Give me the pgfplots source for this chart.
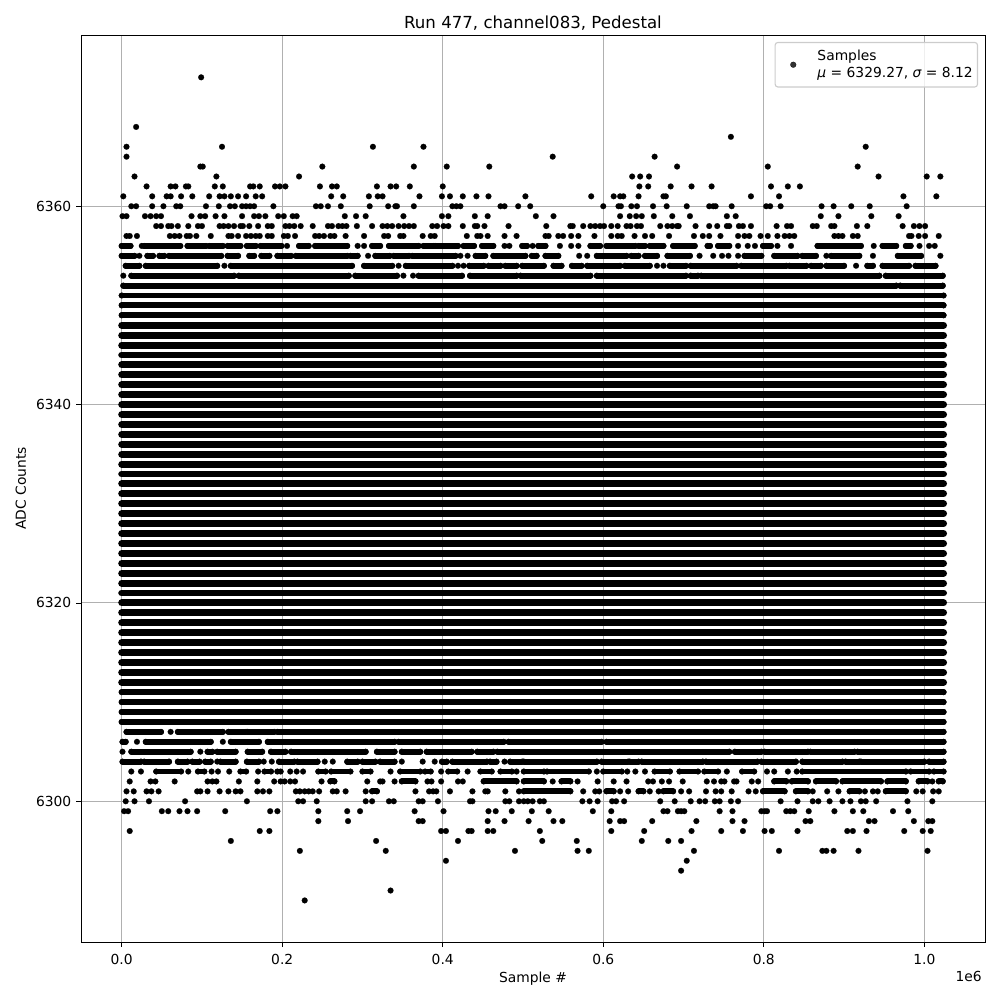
\documentclass[border=0pt]{standalone}
\usepackage{pgfplots}
\pgfplotsset{compat=1.18}
\usepackage{fontspec}
\setmainfont{DejaVu Sans}
\definecolor{gridc}{HTML}{B0B0B0}
\pgfplotsset{seg/.style={black,solid,line width=4.3pt,line cap=round,mark=*,mark size=2.1pt,mark options={line width=0.1pt,fill=black,draw=black},forget plot}}
\begin{document}
\begin{tikzpicture}
\useasboundingbox (-58.54pt,-41.92pt) rectangle (664.16pt,680.78pt);
\begin{axis}[
  at={(0pt,0pt)},anchor=south west,
  scale only axis,width=653.3pt,height=655.5pt,
  xmin=-0.0507,xmax=1.0756,ymin=6285.81,ymax=6377.27,
  unbounded coords=jump,
  axis line style={line width=0.6pt},
  grid=major,grid style={gridc,line width=0.8pt},
  tick align=outside,tick style={black,line width=0.6pt},major tick length=3.5pt,
  xtick={0,0.2,0.4,0.6,0.8,1.0},ytick={6300,6320,6340,6360},
  xtick pos=lower,ytick pos=left,
  scaled x ticks=false,
  x tick label style={yshift=-2pt,/pgf/number format/.cd,fixed,fixed zerofill,precision=1,assume math mode=true},
  y tick label style={/pgf/number format/.cd,1000 sep={},assume math mode=true},
  tick label style={font=\fontsize{10}{12}\selectfont},
  label style={font=\fontsize{10}{12}\selectfont},
  xlabel={Sample \#},ylabel={ADC Counts},
  xlabel style={at={(axis description cs:0.5,0)},anchor=center,yshift=-26.4pt},
  ylabel style={at={(axis description cs:0,0.5)},anchor=center,yshift=43.4pt},
  title={Run 477, channel083, Pedestal},
  title style={font=\fontsize{12}{14}\selectfont,at={(axis description cs:0.5,1)},anchor=center,yshift=2.4pt},
  legend style={at={(axis description cs:1,1)},anchor=north east,xshift=-5pt,yshift=-5pt,draw=black!20,line width=0.8pt,fill=white,fill opacity=0.8,text opacity=1,rounded corners=2pt,font=\fontsize{10}{12}\selectfont,inner xsep=1.5pt,inner ysep=3.3pt},
  legend cell align=left,
  legend image code/.code={\path[draw=none] (2.9pt,0pt) -- (30pt,0pt);\draw[#1] plot coordinates {(14.5pt,0pt)};},
]
% isolated samples
\addplot[only marks,mark=*,mark size=2.1pt,mark options={black,fill=black,line width=0.1pt}] coordinates {
(.099,6373)(.018,6368)
(.006,6366)(.125,6366)(.313,6366)(.376,6366)(.927,6366)
(.759,6367)
(.006,6365)(.537,6365)(.664,6365)
(.098,6364)(.101,6364)(.250,6364)(.364,6364)(.405,6364)(.458,6364)(.692,6364)(.805,6364)(.917,6364)
(.016,6363)(.118,6363)(.221,6363)(.636,6363)(.646,6363)(.657,6363)(.943,6363)(1.003,6363)(1.020,6363)
(.031,6362)(.061,6362)(.067,6362)(.080,6362)(.083,6362)(.116,6362)(.126,6362)(.160,6362)(.164,6362)(.172,6362)(.191,6362)(.197,6362)(.204,6362)(.247,6362)(.262,6362)(.268,6362)(.318,6362)(.335,6362)(.342,6362)(.359,6362)(.400,6362)(.645,6362)(.656,6362)(.684,6362)(.710,6362)(.735,6362)(.809,6362)(.830,6362)(.845,6362)
(.002,6361)(.038,6361)(.056,6361)(.061,6361)(.074,6361)(.088,6361)(.109,6361)(.122,6361)(.128,6361)(.136,6361)(.145,6361)(.155,6361)(.167,6361)(.175,6361)(.261,6361)(.276,6361)(.308,6361)(.319,6361)(.325,6361)(.371,6361)(.399,6361)(.409,6361)(.425,6361)(.442,6361)(.457,6361)(.503,6361)(.585,6361)(.613,6361)(.621,6361)(.625,6361)(.644,6361)(.675,6361)(.678,6361)(.784,6361)(.819,6361)(.974,6361)(1.015,6361)
(.012,6360)(.018,6360)(.038,6360)(.052,6360)(.068,6360)(.073,6360)(.105,6360)(.121,6360)(.135,6360)(.141,6360)(.150,6360)(.155,6360)(.160,6360)(.165,6360)(.189,6360)(.242,6360)(.248,6360)(.257,6360)(.273,6360)(.309,6360)(.332,6360)(.341,6360)(.343,6360)(.364,6360)(.412,6360)(.417,6360)(.422,6360)(.472,6360)(.477,6360)(.494,6360)(.509,6360)(.600,6360)(.619,6360)(.622,6360)(.635,6360)(.642,6360)(.662,6360)(.679,6360)(.704,6360)(.732,6360)(.737,6360)(.740,6360)(.760,6360)(.803,6360)(.808,6360)(.821,6360)(.872,6360)(.887,6360)(.909,6360)(.932,6360)(.978,6360)
(.001,6359)(.006,6359)(.029,6359)(.036,6359)(.043,6359)(.049,6359)(.087,6359)(.098,6359)(.104,6359)(.117,6359)(.128,6359)(.150,6359)(.165,6359)(.171,6359)(.179,6359)(.195,6359)(.202,6359)(.213,6359)(.218,6359)(.278,6359)(.292,6359)(.304,6359)(.351,6359)(.399,6359)(.407,6359)(.440,6359)(.456,6359)(.516,6359)(.538,6359)(.621,6359)(.633,6359)(.641,6359)(.648,6359)(.663,6359)(.686,6359)(.708,6359)(.754,6359)(.765,6359)(.871,6359)(.893,6359)(.934,6359)(.968,6359)
(.043,6358)(.049,6358)(.058,6358)(.062,6358)(.070,6358)(.083,6358)(.095,6358)(.100,6358)(.122,6358)(.127,6358)(.133,6358)(.140,6358)(.148,6358)(.151,6358)(.159,6358)(.170,6358)(.182,6358)(.187,6358)(.204,6358)(.209,6358)(.215,6358)(.223,6358)(.238,6358)(.257,6358)(.262,6358)(.270,6358)(.275,6358)(.280,6358)(.293,6358)(.312,6358)(.325,6358)(.331,6358)(.337,6358)(.345,6358)(.352,6358)(.358,6358)(.364,6358)(.387,6358)(.393,6358)(.401,6358)(.407,6358)(.425,6358)(.440,6358)(.443,6358)(.452,6358)(.482,6358)(.529,6358)(.559,6358)(.562,6358)(.575,6358)(.584,6358)(.590,6358)(.596,6358)(.601,6358)(.610,6358)(.618,6358)(.629,6358)(.634,6358)(.642,6358)(.647,6358)(.671,6358)(.680,6358)(.686,6358)(.692,6358)(.694,6358)(.715,6358)(.732,6358)(.742,6358)(.754,6358)(.757,6358)(.769,6358)(.774,6358)(.784,6358)(.816,6358)(.829,6358)(.834,6358)(.861,6358)(.866,6358)(.884,6358)(.888,6358)(.916,6358)(.929,6358)(.973,6358)(.987,6358)(.994,6358)(1.001,6358)
(.006,6357)(.010,6357)(.019,6357)(.060,6357)(.066,6357)(.072,6357)(.081,6357)(.085,6357)(.093,6357)(.111,6357)(.133,6357)(.137,6357)(.145,6357)(.155,6357)(.161,6357)(.167,6357)(.172,6357)(.182,6357)(.187,6357)(.202,6357)(.207,6357)(.216,6357)(.241,6357)(.246,6357)(.252,6357)(.260,6357)(.265,6357)(.279,6357)(.302,6357)(.327,6357)(.332,6357)(.347,6357)(.351,6357)(.375,6357)(.385,6357)(.390,6357)(.430,6357)(.443,6357)(.447,6357)(.456,6357)(.477,6357)(.492,6357)(.528,6357)(.532,6357)(.544,6357)(.550,6357)(.560,6357)(.569,6357)(.589,6357)(.610,6357)(.618,6357)(.623,6357)(.639,6357)(.652,6357)(.661,6357)(.682,6357)(.713,6357)(.724,6357)(.732,6357)(.746,6357)(.768,6357)(.776,6357)(.782,6357)(.796,6357)(.805,6357)(.817,6357)(.826,6357)(.832,6357)(.838,6357)(.888,6357)(.893,6357)(.898,6357)(.911,6357)(.917,6357)(.981,6357)(.984,6357)(.993,6357)(1.001,6357)(1.018,6357)
(.228,6290)(.335,6291)(.697,6293)(.404,6294)(.704,6294)
(.222,6295)(.329,6295)(.490,6295)(.568,6295)(.582,6295)(.713,6295)(.819,6295)(.873,6295)(.878,6295)(.887,6295)(.918,6295)(1.004,6295)
(.136,6296)(.317,6296)(.419,6296)(.524,6296)(.567,6296)(.648,6296)(.681,6296)(.697,6296)
(.010,6297)(.172,6297)(.184,6297)(.398,6297)(.404,6297)(.432,6297)(.436,6297)(.456,6297)(.463,6297)(.521,6297)(.610,6297)(.651,6297)(.710,6297)(.747,6297)(.774,6297)(.801,6297)(.810,6297)(.842,6297)(.904,6297)(.911,6297)(.928,6297)(.975,6297)(.998,6297)(1.008,6297)
(.245,6298)(.282,6298)(.370,6298)(.375,6298)(.456,6298)(.477,6298)(.507,6298)(.538,6298)(.549,6298)(.608,6298)(.621,6298)(.626,6298)(.661,6298)(.716,6298)(.761,6298)(.776,6298)(.852,6298)(.858,6298)(.931,6298)(.938,6298)(.987,6298)(1.005,6298)(1.010,6298)
(.003,6299)(.008,6299)(.050,6299)(.058,6299)(.072,6299)(.082,6299)(.094,6299)(.129,6299)(.185,6299)(.194,6299)(.245,6299)(.281,6299)(.297,6299)(.365,6299)(.401,6299)(.457,6299)(.466,6299)(.486,6299)(.511,6299)(.532,6299)(.587,6299)(.610,6299)(.675,6299)(.680,6299)(.693,6299)(.697,6299)(.701,6299)(.745,6299)(.761,6299)(.797,6299)(.801,6299)(.804,6299)(.828,6299)(.833,6299)(.838,6299)(.856,6299)(.888,6299)(.911,6299)(.924,6299)(.961,6299)(.980,6299)
(.005,6300)(.016,6300)(.034,6300)(.079,6300)(.156,6300)(.220,6300)(.226,6300)(.243,6300)(.304,6300)(.312,6300)(.333,6300)(.339,6300)(.370,6300)(.375,6300)(.394,6300)(.434,6300)(.437,6300)(.478,6300)(.483,6300)(.495,6300)(.501,6300)(.506,6300)(.512,6300)(.521,6300)(.526,6300)(.574,6300)(.583,6300)(.593,6300)(.611,6300)(.616,6300)(.626,6300)(.671,6300)(.689,6300)(.709,6300)(.720,6300)(.727,6300)(.739,6300)(.745,6300)(.759,6300)(.768,6300)(.821,6300)(.842,6300)(.861,6300)(.868,6300)(.882,6300)(.898,6300)(.908,6300)(.921,6300)(.927,6300)(.940,6300)(.979,6300)(1.010,6300)
(.006,6301)(.015,6301)(.031,6301)(.037,6301)(.046,6301)(.094,6301)(.098,6301)(.107,6301)(.122,6301)(.133,6301)(.142,6301)(.148,6301)(.169,6301)(.176,6301)(.184,6301)(.217,6301)(.222,6301)(.228,6301)(.233,6301)(.238,6301)(.246,6301)(.263,6301)(.268,6301)(.279,6301)(.304,6301)(.366,6301)(.383,6301)(.388,6301)(.392,6301)(.409,6301)(.437,6301)(.453,6301)(.456,6301)(.478,6301)(.495,6301)(.575,6301)(.590,6301)(.595,6301)(.621,6301)(.631,6301)(.658,6301)(.669,6301)(.697,6301)(.707,6301)(.728,6301)(.740,6301)(.747,6301)(.760,6301)(.781,6301)(.790,6301)(.861,6301)(.879,6301)(.893,6301)(.926,6301)(.936,6301)(.942,6301)(.990,6301)(.998,6301)(1.011,6301)(1.018,6301)
(.010,6302)(.036,6302)(.042,6302)(.066,6302)(.107,6302)(.113,6302)(.118,6302)(.146,6302)(.169,6302)(.190,6302)(.198,6302)(.203,6302)(.210,6302)(.216,6302)(.249,6302)(.306,6302)(.322,6302)(.325,6302)(.340,6302)(.381,6302)(.386,6302)(.398,6302)(.419,6302)(.425,6302)(.537,6302)(.568,6302)(.593,6302)(.613,6302)(.629,6302)(.656,6302)(.662,6302)(.673,6302)(.682,6302)(.699,6302)(.729,6302)(.738,6302)(.747,6302)(.751,6302)(.763,6302)(.766,6302)(.785,6302)(.793,6302)(1.010,6302)
(.012,6303)(.024,6303)(.083,6303)(.112,6303)(.120,6303)(.134,6303)(.170,6303)(.210,6303)(.218,6303)(.226,6303)(.335,6303)(.398,6303)(.431,6303)(.492,6303)(.592,6303)(.630,6303)(.640,6303)(.652,6303)(.754,6303)(.804,6303)(.813,6303)(.830,6303)(.841,6303)
(.119,6304)(.177,6304)(.187,6304)(.253,6304)(.263,6304)(.349,6304)(.375,6304)(.390,6304)(.477,6304)
(.001,6305)(.098,6305)(.019,6306)(.126,6306)(.061,6307)
};
\addlegendentry{\shortstack[l]{Samples\\{\itshape μ} = 6329.27, {\itshape σ} = 8.12}}
% rows with gaps: runs of overlapping samples, one run after another
\addplot[seg] coordinates {(0,6356)(.011,6356)(nan,nan)(.025,6356)(nan,nan)(.028,6356)(.073,6356)(nan,nan)(.082,6356)(.105,6356)(nan,nan)(.109,6356)(.126,6356)(nan,nan)(.132,6356)(.148,6356)(nan,nan)(.156,6356)(.167,6356)(nan,nan)(.173,6356)(.199,6356)(nan,nan)(.206,6356)(nan,nan)(.221,6356)(.233,6356)(nan,nan)(.241,6356)(.281,6356)(nan,nan)(.294,6356)(nan,nan)(.302,6356)(nan,nan)(.312,6356)(.322,6356)(nan,nan)(.333,6356)(.370,6356)(nan,nan)(.376,6356)(.389,6356)(nan,nan)(.391,6356)(.419,6356)(nan,nan)(.426,6356)(.439,6356)(nan,nan)(.449,6356)(.463,6356)(nan,nan)(.477,6356)(nan,nan)(.483,6356)(nan,nan)(.499,6356)(.505,6356)(nan,nan)(.512,6356)(nan,nan)(.519,6356)(.528,6356)(nan,nan)(.546,6356)(nan,nan)(.560,6356)(nan,nan)(.569,6356)(nan,nan)(.584,6356)(.596,6356)(nan,nan)(.604,6356)(.640,6356)(nan,nan)(.644,6356)(.652,6356)(nan,nan)(.658,6356)(.675,6356)(nan,nan)(.687,6356)(.714,6356)(nan,nan)(.730,6356)(.733,6356)(nan,nan)(.743,6356)(.757,6356)(nan,nan)(.768,6356)(nan,nan)(.780,6356)(nan,nan)(.789,6356)(nan,nan)(.799,6356)(.809,6356)(nan,nan)(.817,6356)(nan,nan)(.834,6356)(nan,nan)(.867,6356)(.921,6356)(nan,nan)(.937,6356)(nan,nan)(.948,6356)(.965,6356)(nan,nan)(.977,6356)(.983,6356)(nan,nan)(.994,6356)(nan,nan)(1.006,6356)(nan,nan)(1.013,6356)};
\addplot[seg] coordinates {(0,6355)(.016,6355)(nan,nan)(.022,6355)(nan,nan)(.032,6355)(.039,6355)(nan,nan)(.047,6355)(.053,6355)(nan,nan)(.059,6355)(.124,6355)(nan,nan)(.132,6355)(.145,6355)(nan,nan)(.159,6355)(.165,6355)(nan,nan)(.174,6355)(.184,6355)(nan,nan)(.194,6355)(.211,6355)(nan,nan)(.217,6355)(.281,6355)(nan,nan)(.285,6355)(.294,6355)(nan,nan)(.307,6355)(nan,nan)(.316,6355)(.334,6355)(nan,nan)(.339,6355)(.358,6355)(nan,nan)(.362,6355)(.416,6355)(nan,nan)(.422,6355)(nan,nan)(.431,6355)(nan,nan)(.441,6355)(.453,6355)(nan,nan)(.463,6355)(.503,6355)(nan,nan)(.511,6355)(.517,6355)(nan,nan)(.528,6355)(.544,6355)(nan,nan)(.570,6355)(nan,nan)(.580,6355)(nan,nan)(.592,6355)(.629,6355)(nan,nan)(.635,6355)(.644,6355)(nan,nan)(.652,6355)(.667,6355)(nan,nan)(.680,6355)(.708,6355)(nan,nan)(.720,6355)(nan,nan)(.737,6355)(nan,nan)(.748,6355)(nan,nan)(.756,6355)(nan,nan)(.768,6355)(nan,nan)(.776,6355)(.797,6355)(nan,nan)(.813,6355)(.842,6355)(nan,nan)(.848,6355)(.865,6355)(nan,nan)(.878,6355)(nan,nan)(.884,6355)(.919,6355)(nan,nan)(.936,6355)(nan,nan)(.967,6355)(.996,6355)(nan,nan)(1.020,6355)};
\addplot[seg] coordinates {(.005,6354)(.022,6354)(nan,nan)(.030,6354)(.119,6354)(nan,nan)(.128,6354)(nan,nan)(.136,6354)(.287,6354)(nan,nan)(.302,6354)(.337,6354)(nan,nan)(.345,6354)(nan,nan)(.354,6354)(.412,6354)(nan,nan)(.419,6354)(nan,nan)(.426,6354)(nan,nan)(.433,6354)(.451,6354)(nan,nan)(.457,6354)(.472,6354)(nan,nan)(.478,6354)(.492,6354)(nan,nan)(.499,6354)(.526,6354)(nan,nan)(.538,6354)(.548,6354)(nan,nan)(.561,6354)(.573,6354)(nan,nan)(.580,6354)(.621,6354)(nan,nan)(.627,6354)(.658,6354)(nan,nan)(.667,6354)(nan,nan)(.675,6354)(nan,nan)(.683,6354)(.703,6354)(nan,nan)(.709,6354)(.766,6354)(nan,nan)(.772,6354)(.828,6354)(nan,nan)(.832,6354)(.853,6354)(nan,nan)(.859,6354)(.871,6354)(nan,nan)(.878,6354)(.900,6354)(nan,nan)(.915,6354)(nan,nan)(.929,6354)(.936,6354)(nan,nan)(.948,6354)(.981,6354)(nan,nan)(.989,6354)(1.014,6354)};
\addplot[seg] coordinates {(.002,6353)(nan,nan)(.012,6353)(.140,6353)(nan,nan)(.146,6353)(.283,6353)(nan,nan)(.291,6353)(.343,6353)(nan,nan)(.351,6353)(nan,nan)(.363,6353)(nan,nan)(.370,6353)(.424,6353)(nan,nan)(.434,6353)(.492,6353)(nan,nan)(.497,6353)(.584,6353)(nan,nan)(.592,6353)(.703,6353)(nan,nan)(.709,6353)(.718,6353)(nan,nan)(.722,6353)(.944,6353)(nan,nan)(.952,6353)(1.023,6353)};
\addplot[seg] coordinates {(.002,6352)(.965,6352)(nan,nan)(.970,6352)(1.023,6352)};
% lower rows
\addplot[seg] coordinates {(.312,6301)(.318,6301)(nan,nan)(.501,6301)(.559,6301)(nan,nan)(.604,6301)(.613,6301)(nan,nan)(.644,6301)(.650,6301)(nan,nan)(.675,6301)(.687,6301)(nan,nan)(.799,6301)(.826,6301)(nan,nan)(.840,6301)(.855,6301)(nan,nan)(.907,6301)(.919,6301)(nan,nan)(.952,6301)(.977,6301)};
\addplot[seg] coordinates {(.260,6302)(.265,6302)(nan,nan)(.349,6302)(.366,6302)(nan,nan)(.451,6302)(.492,6302)(nan,nan)(.501,6302)(.526,6302)(nan,nan)(.548,6302)(.559,6302)(nan,nan)(.813,6302)(.828,6302)(nan,nan)(.835,6302)(.855,6302)(nan,nan)(.865,6302)(.890,6302)(nan,nan)(.898,6302)(.946,6302)(nan,nan)(.954,6302)(.977,6302)(nan,nan)(.993,6302)(1.004,6302)(nan,nan)(1.018,6302)(1.023,6302)};
\addplot[seg] coordinates {(.043,6303)(.074,6303)(nan,nan)(.095,6303)(.103,6303)(nan,nan)(.148,6303)(.155,6303)(nan,nan)(.178,6303)(.186,6303)(nan,nan)(.194,6303)(.198,6303)(nan,nan)(.245,6303)(.254,6303)(nan,nan)(.261,6303)(.285,6303)(nan,nan)(.300,6303)(.310,6303)(nan,nan)(.347,6303)(.372,6303)(nan,nan)(.378,6303)(.385,6303)(nan,nan)(.407,6303)(.418,6303)(nan,nan)(.447,6303)(.461,6303)(nan,nan)(.472,6303)(.486,6303)(nan,nan)(.501,6303)(.526,6303)(nan,nan)(.530,6303)(.582,6303)(nan,nan)(.600,6303)(.623,6303)(nan,nan)(.664,6303)(.683,6303)(nan,nan)(.695,6303)(.718,6303)(nan,nan)(.726,6303)(.743,6303)(nan,nan)(.773,6303)(.788,6303)(nan,nan)(.848,6303)(.977,6303)(nan,nan)(.983,6303)(1.006,6303)(nan,nan)(1.012,6303)(1.024,6303)};
\addplot[seg] coordinates {(.001,6304)(.024,6304)(nan,nan)(.028,6304)(.059,6304)(nan,nan)(.070,6304)(.082,6304)(nan,nan)(.088,6304)(.097,6304)(nan,nan)(.104,6304)(.111,6304)(nan,nan)(.123,6304)(.142,6304)(nan,nan)(.156,6304)(.171,6304)(nan,nan)(.196,6304)(.215,6304)(nan,nan)(.219,6304)(.244,6304)(nan,nan)(.281,6304)(.294,6304)(nan,nan)(.300,6304)(.316,6304)(nan,nan)(.322,6304)(.340,6304)(nan,nan)(.399,6304)(.405,6304)(nan,nan)(.412,6304)(.455,6304)(nan,nan)(.459,6304)(.467,6304)(nan,nan)(.484,6304)(.499,6304)(nan,nan)(.501,6304)(.592,6304)(nan,nan)(.598,6304)(.631,6304)(nan,nan)(.633,6304)(.644,6304)(nan,nan)(.648,6304)(.724,6304)(nan,nan)(.728,6304)(.792,6304)(nan,nan)(.797,6304)(.840,6304)(nan,nan)(.848,6304)(.898,6304)(nan,nan)(.902,6304)(.919,6304)(nan,nan)(.921,6304)(1.000,6304)(nan,nan)(1.006,6304)(1.024,6304)};
\addplot[seg] coordinates {(.012,6305)(.086,6305)(nan,nan)(.107,6305)(.113,6305)(nan,nan)(.119,6305)(.142,6305)(nan,nan)(.157,6305)(.175,6305)(nan,nan)(.186,6305)(.204,6305)(nan,nan)(.211,6305)(.304,6305)(nan,nan)(.318,6305)(.340,6305)(nan,nan)(.349,6305)(.372,6305)(nan,nan)(.380,6305)(.436,6305)(nan,nan)(.443,6305)(.463,6305)(nan,nan)(.468,6305)(.757,6305)(nan,nan)(.764,6305)(.797,6305)(nan,nan)(.801,6305)(.855,6305)(nan,nan)(.858,6305)(.913,6305)(nan,nan)(.917,6305)(1.024,6305)};
\addplot[seg] coordinates {(.001,6306)(.005,6306)(nan,nan)(.030,6306)(.111,6306)(nan,nan)(.136,6306)(.171,6306)(nan,nan)(.182,6306)(.340,6306)(nan,nan)(.345,6306)(.476,6306)(nan,nan)(.482,6306)(.598,6306)(nan,nan)(.604,6306)(1.024,6306)};
\addplot[seg] coordinates {(.006,6307)(.049,6307)(nan,nan)(.070,6307)(.126,6307)(nan,nan)(.133,6307)(.155,6307)(nan,nan)(.157,6307)(.190,6307)(nan,nan)(.194,6307)(1.024,6307)};
% solid rows
\addplot[seg] coordinates {(0,6308)(1.024,6308)(nan,nan)(0,6309)(1.024,6309)(nan,nan)(0,6310)(1.024,6310)(nan,nan)(0,6311)(1.024,6311)(nan,nan)(0,6349)(1.024,6349)(nan,nan)(0,6350)(1.024,6350)(nan,nan)(0,6351)(1.024,6351)};
\addplot[seg,line width=5pt,mark=none] coordinates {(0,6312)(1.024,6312)(nan,nan)(0,6313)(1.024,6313)(nan,nan)(0,6314)(1.024,6314)(nan,nan)(0,6315)(1.024,6315)(nan,nan)(0,6316)(1.024,6316)(nan,nan)(0,6317)(1.024,6317)(nan,nan)(0,6318)(1.024,6318)(nan,nan)(0,6319)(1.024,6319)(nan,nan)(0,6320)(1.024,6320)(nan,nan)(0,6321)(1.024,6321)(nan,nan)(0,6322)(1.024,6322)(nan,nan)(0,6323)(1.024,6323)(nan,nan)(0,6324)(1.024,6324)(nan,nan)(0,6325)(1.024,6325)(nan,nan)(0,6326)(1.024,6326)(nan,nan)(0,6327)(1.024,6327)(nan,nan)(0,6328)(1.024,6328)(nan,nan)(0,6329)(1.024,6329)(nan,nan)(0,6330)(1.024,6330)(nan,nan)(0,6331)(1.024,6331)(nan,nan)(0,6332)(1.024,6332)(nan,nan)(0,6333)(1.024,6333)(nan,nan)(0,6334)(1.024,6334)(nan,nan)(0,6335)(1.024,6335)(nan,nan)(0,6336)(1.024,6336)(nan,nan)(0,6337)(1.024,6337)(nan,nan)(0,6338)(1.024,6338)(nan,nan)(0,6339)(1.024,6339)(nan,nan)(0,6340)(1.024,6340)(nan,nan)(0,6341)(1.024,6341)(nan,nan)(0,6342)(1.024,6342)(nan,nan)(0,6343)(1.024,6343)(nan,nan)(0,6344)(1.024,6344)(nan,nan)(0,6345)(1.024,6345)(nan,nan)(0,6346)(1.024,6346)(nan,nan)(0,6347)(1.024,6347)(nan,nan)(0,6348)(1.024,6348)};
\end{axis}
\node[anchor=east,font=\fontsize{10}{12}\selectfont] at (654.5pt,-24.6pt) {1e6};
\end{tikzpicture}
\end{document}
